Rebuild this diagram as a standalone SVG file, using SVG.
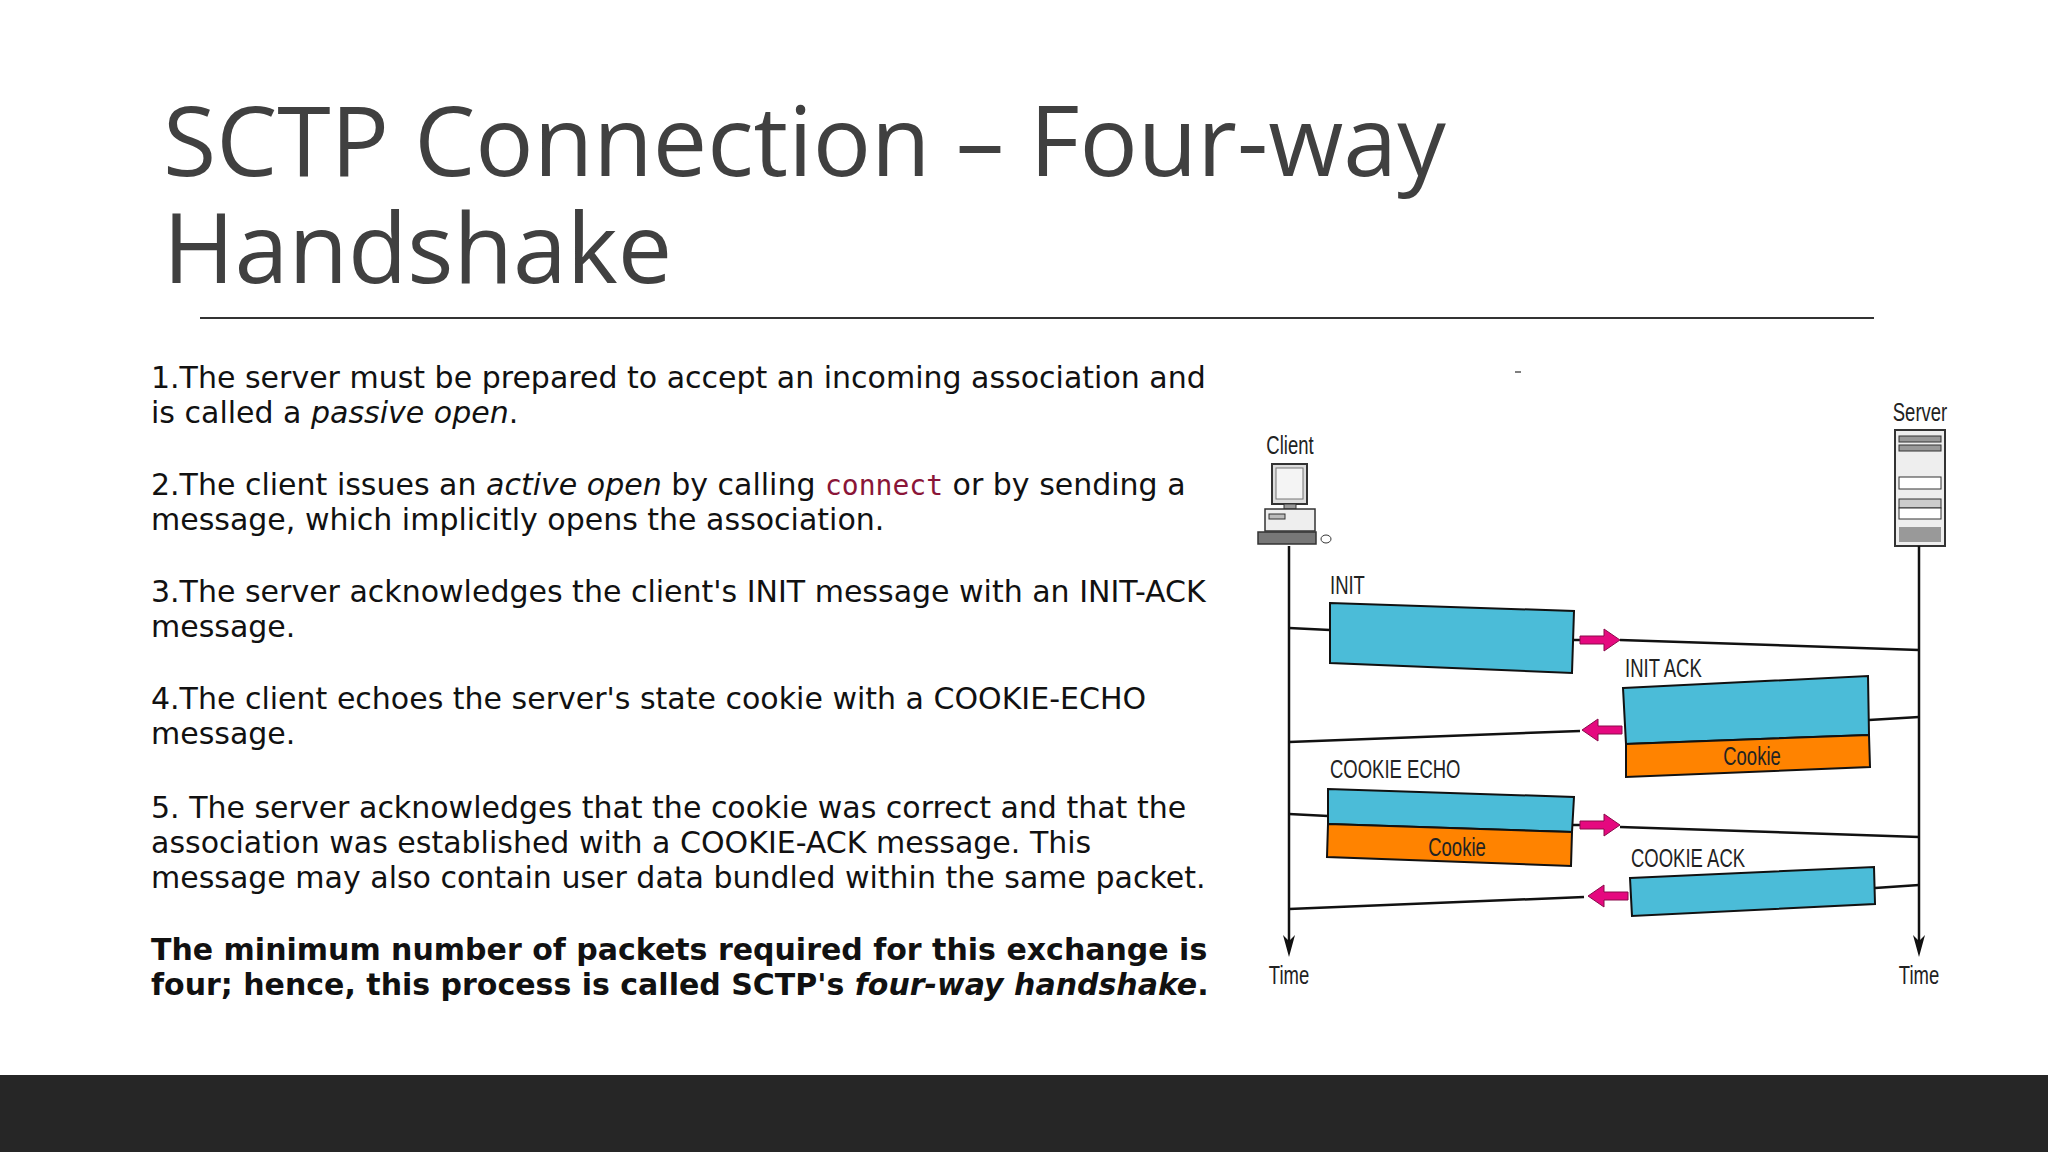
<svg xmlns="http://www.w3.org/2000/svg" width="2048" height="1152" viewBox="0 0 2048 1152">
<style>
.title{font-family:"Open Sans","Noto Sans",sans-serif;font-size:97px;fill:#404040}
.body{font-family:"DejaVu Sans",Verdana,sans-serif;font-size:30px;fill:#111}
.code{font-family:"DejaVu Sans Mono",monospace;fill:#8a1538;font-size:28px}
.lbl{font-family:"Liberation Sans",Arial,sans-serif;font-size:25px;fill:#222}
.ln{stroke:#111;stroke-width:2.5;fill:none}
.blue{fill:#4bbcd8;stroke:#111;stroke-width:2}
.orange{fill:#ff8300;stroke:#111;stroke-width:2}
.arr{fill:#e5097f;stroke:#8a0a4a;stroke-width:1}
.head{fill:#111}
</style>
<defs>
<path id="blk" d="M0,-4 H24 V-11 L40,0 L24,11 V4 H0 Z"/>
</defs>
<rect width="2048" height="1152" fill="#fff"/>
<rect y="1075" width="2048" height="77" fill="#262626"/>
<g id="title">
<text class="title" x="163" y="176">SCTP Connection – Four-way</text>
<text class="title" x="163" y="283">Handshake</text>
<line x1="200" y1="318" x2="1874" y2="318" stroke="#333" stroke-width="2"/>
</g>
<g id="body" class="body">
<text x="151" y="388">1.The server must be prepared to accept an incoming association and</text>
<text x="151" y="423">is called a <tspan font-style="italic">passive open</tspan>.</text>
<text x="151" y="495">2.The client issues an <tspan font-style="italic">active open</tspan> by calling <tspan class="code">connect</tspan> or by sending a</text>
<text x="151" y="530">message, which implicitly opens the association.</text>
<text x="151" y="602">3.The server acknowledges the client's INIT message with an INIT-ACK</text>
<text x="151" y="637">message.</text>
<text x="151" y="709">4.The client echoes the server's state cookie with a COOKIE-ECHO</text>
<text x="151" y="744">message.</text>
<text x="151" y="818">5. The server acknowledges that the cookie was correct and that the</text>
<text x="151" y="853">association was established with a COOKIE-ACK message. This</text>
<text x="151" y="888">message may also contain user data bundled within the same packet.</text>
<text x="151" y="960" font-weight="bold">The minimum number of packets required for this exchange is</text>
<text x="151" y="995" font-weight="bold">four; hence, this process is called SCTP's <tspan font-style="italic">four-way handshake</tspan>.</text>
</g>
<line x1="1515" y1="372" x2="1521" y2="372" stroke="#555" stroke-width="1.5"/>
<g id="client">
<text class="lbl" x="1290" y="454" text-anchor="middle" transform="translate(1290 0) scale(0.74 1) translate(-1290 0)">Client</text>
<rect x="1272" y="464" width="35" height="40" fill="#ddd" stroke="#333" stroke-width="2"/>
<rect x="1276" y="468" width="27" height="31" fill="#f4f4f4" stroke="#777"/>
<rect x="1284" y="504" width="12" height="5" fill="#999" stroke="#333"/>
<rect x="1265" y="509" width="50" height="22" fill="#eee" stroke="#333" stroke-width="1.5"/>
<rect x="1269" y="514" width="16" height="5" fill="#bbb" stroke="#333"/>
<rect x="1258" y="532" width="58" height="12" fill="#777" stroke="#333" stroke-width="1.5"/>
<ellipse cx="1326" cy="539" rx="5" ry="4" fill="#fff" stroke="#333"/>
</g>
<g id="server">
<text class="lbl" x="1920" y="421" text-anchor="middle" transform="translate(1920 0) scale(0.74 1) translate(-1920 0)">Server</text>
<rect x="1895" y="430" width="50" height="116" fill="#eee" stroke="#333" stroke-width="2"/>
<rect x="1899" y="436" width="42" height="6" fill="#999" stroke="#333"/>
<rect x="1899" y="445" width="42" height="6" fill="#999" stroke="#333"/>
<rect x="1899" y="477" width="42" height="12" fill="#fff" stroke="#333"/>
<rect x="1899" y="499" width="42" height="9" fill="#ccc" stroke="#333"/>
<rect x="1899" y="508" width="42" height="11" fill="#fff" stroke="#333"/>
<rect x="1899" y="527" width="42" height="15" fill="#999"/>
</g>
<g id="connectors">
<line class="ln" x1="1289" y1="546" x2="1289" y2="950"/>
<line class="ln" x1="1919" y1="546" x2="1919" y2="950"/>
<polygon class="head" points="1283,935 1289,957 1295,935 1289,941"/>
<polygon class="head" points="1913,935 1919,957 1925,935 1919,941"/>
<polyline class="ln" points="1289,628 1330,630"/>
<polyline class="ln" points="1573,640 1580,640"/>
<polyline class="ln" points="1620,640 1919,650"/>
<polyline class="ln" points="1919,717 1869,720"/>
<polyline class="ln" points="1580,731 1289,742"/>
<polyline class="ln" points="1289,814 1328,816"/>
<polyline class="ln" points="1572,825 1580,825"/>
<polyline class="ln" points="1620,827 1919,837"/>
<polyline class="ln" points="1919,885 1875,888"/>
<polyline class="ln" points="1584,897 1289,909"/>
<use href="#blk" class="arr" transform="translate(1580 640)"/>
<use href="#blk" class="arr" transform="translate(1622 730) scale(-1 1)"/>
<use href="#blk" class="arr" transform="translate(1580 825)"/>
<use href="#blk" class="arr" transform="translate(1628 896) scale(-1 1)"/>
</g>
<g id="init">
<text class="lbl" x="1330" y="594" transform="translate(1330 0) scale(0.74 1) translate(-1330 0)">INIT</text>
<polygon class="blue" points="1330,603 1574,611 1572,673 1330,663"/>
</g>
<g id="initack">
<text class="lbl" x="1625" y="677" transform="translate(1625 0) scale(0.74 1) translate(-1625 0)">INIT ACK</text>
<polygon class="blue" points="1623,688 1868,676 1869,735 1626,744"/>
<polygon class="orange" points="1626,744 1869,735 1870,767 1626,777"/>
<text class="lbl" x="1752" y="765" text-anchor="middle" transform="translate(1752 0) scale(0.74 1) translate(-1752 0)">Cookie</text>
</g>
<g id="cookieecho">
<text class="lbl" x="1330" y="778" transform="translate(1330 0) scale(0.74 1) translate(-1330 0)">COOKIE ECHO</text>
<polygon class="blue" points="1328,789 1574,797 1572,832 1328,824"/>
<polygon class="orange" points="1328,824 1572,832 1571,866 1327,857"/>
<text class="lbl" x="1457" y="856" text-anchor="middle" transform="translate(1457 0) scale(0.74 1) translate(-1457 0)">Cookie</text>
</g>
<g id="cookieack">
<text class="lbl" x="1631" y="867" transform="translate(1631 0) scale(0.74 1) translate(-1631 0)">COOKIE ACK</text>
<polygon class="blue" points="1630,878 1874,867 1875,904 1632,916"/>
</g>
<g id="time">
<text class="lbl" x="1289" y="984" text-anchor="middle" transform="translate(1289 0) scale(0.74 1) translate(-1289 0)">Time</text>
<text class="lbl" x="1919" y="984" text-anchor="middle" transform="translate(1919 0) scale(0.74 1) translate(-1919 0)">Time</text>
</g>
</svg>
